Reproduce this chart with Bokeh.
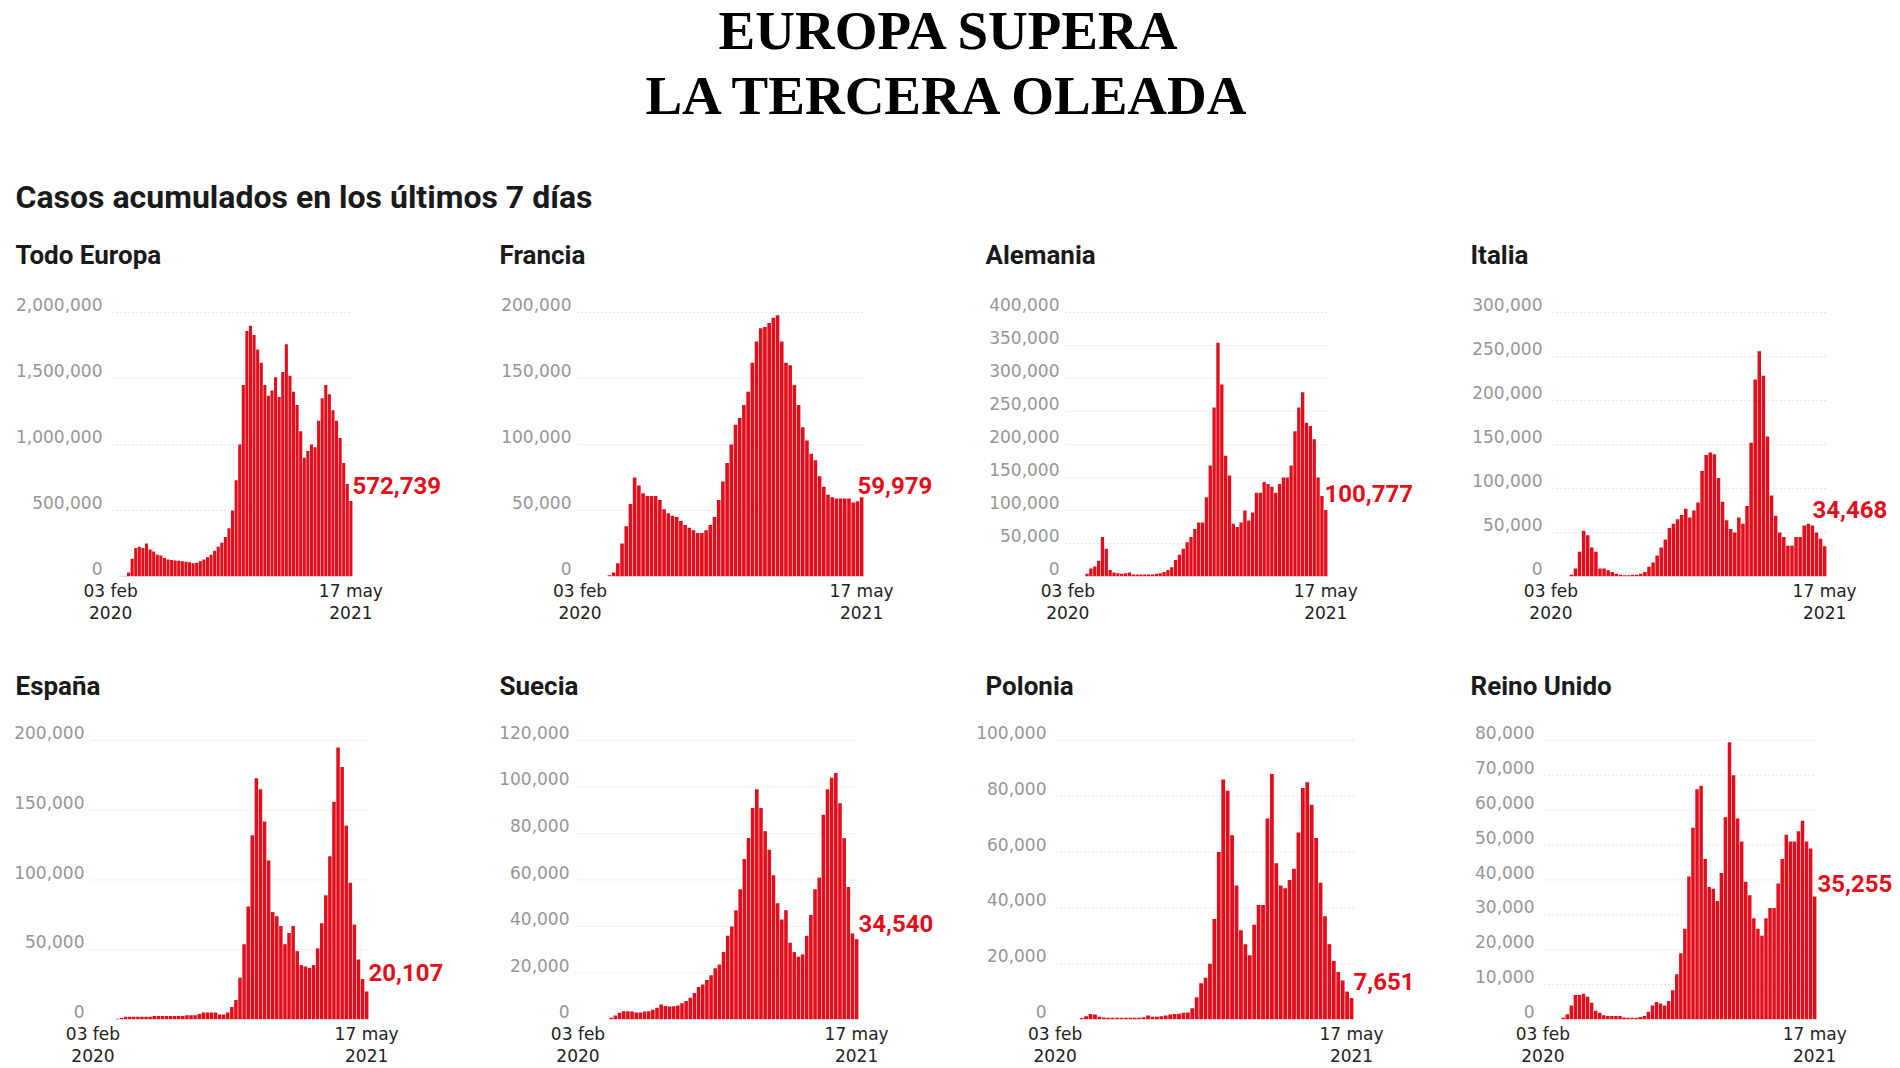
from bokeh.plotting import figure
from bokeh.layouts import column, row
from bokeh.models import Range1d, FixedTicker, NumeralTickFormatter, LinearAxis
from bokeh.core.properties import value
from bokeh.embed import file_html
from bokeh.resources import INLINE

# ---------------- DATA (weekly cases, 03 feb 2020 .. 17 may 2021) ----------------
main_title = ["EUROPA SUPERA", "LA TERCERA OLEADA"]
subtitle = "Casos acumulados en los últimos 7 días"
x_tick_labels = ["03 feb\n2020", "17 may\n2021"]

todo_europa = [0, 0, 0, 1000, 3000, 30000, 135000, 215000, 225000, 215000,
               250000, 205000, 190000, 165000, 160000, 140000, 128000, 125000, 122000, 120000,
               115000, 112000, 108000, 100000, 105000, 115000, 128000, 145000, 165000, 195000,
               225000, 255000, 300000, 365000, 500000, 730000, 1000000, 1450000, 1860000, 1900000,
               1830000, 1720000, 1620000, 1450000, 1370000, 1410000, 1510000, 1360000, 1550000, 1760000,
               1520000, 1400000, 1300000, 1100000, 900000, 950000, 1000000, 980000, 1180000, 1350000,
               1450000, 1380000, 1260000, 1180000, 1050000, 860000, 700000, 572739]
francia = [0, 0, 0, 0, 0, 0, 0, 1000, 3000, 10000,
           25000, 38000, 55000, 75000, 69000, 63000, 61000, 61000, 61000, 58000,
           51000, 48000, 46000, 45000, 42000, 39000, 37000, 35000, 33000, 33000,
           35000, 39000, 45000, 58000, 72000, 86000, 100000, 115000, 120000, 130000,
           140000, 162000, 178000, 188000, 189000, 192000, 196000, 198000, 178000, 162000,
           160000, 145000, 130000, 113000, 103000, 93000, 88000, 76000, 68000, 62000,
           60000, 59000, 59000, 59000, 59000, 56000, 57000, 59979]
alemania = [0, 0, 0, 0, 0, 4000, 12000, 15000, 24000, 60000,
            42000, 10000, 6000, 5000, 4000, 5000, 6000, 3000, 3000, 3000,
            3000, 3000, 3000, 4000, 5000, 7000, 10000, 14000, 25000, 33000,
            42000, 52000, 60000, 72000, 82000, 82000, 120000, 168000, 256000, 354000,
            291000, 183000, 153000, 80000, 75000, 82000, 100000, 85000, 97000, 127000,
            127000, 143000, 140000, 136000, 127000, 140000, 150000, 150000, 168000, 220000,
            256000, 279000, 233000, 228000, 208000, 150000, 122000, 100777]
italia = [0, 0, 0, 0, 0, 2000, 9000, 28000, 52000, 47000,
          33000, 28000, 9000, 9000, 7000, 5000, 3000, 2000, 1500, 1500,
          2000, 2000, 3000, 5000, 11000, 16000, 24000, 33000, 42000, 55000,
          60000, 65000, 70000, 77000, 67000, 75000, 84000, 120000, 138000, 141000,
          139000, 112000, 85000, 64000, 54000, 50000, 67000, 60000, 80000, 152000,
          224000, 256000, 228000, 159000, 92000, 69000, 50000, 45000, 35000, 35000,
          45000, 45000, 58000, 60000, 58000, 50000, 43000, 34468]
espana = [0, 0, 0, 0, 0, 0, 500, 1000, 2000, 2000,
          2000, 2000, 2000, 2000, 2000, 2500, 2500, 2500, 2500, 2500,
          2500, 2500, 2500, 3000, 3000, 3000, 4000, 5000, 5000, 5000,
          5000, 3500, 3500, 5000, 9000, 14000, 30000, 54000, 81000, 132000,
          173000, 165000, 142000, 114000, 77000, 74000, 67000, 54000, 62000, 67000,
          49000, 39000, 38000, 37000, 39000, 51000, 69000, 89000, 117000, 156000,
          195000, 181000, 139000, 98000, 68000, 43000, 29000, 20107]
suecia = [0, 0, 0, 0, 0, 0, 0, 0, 700, 1700,
          2900, 3600, 3600, 3400, 3000, 3000, 3400, 3600, 4200, 5000,
          6400, 5800, 5600, 5700, 6000, 7000, 8000, 9300, 11400, 14000,
          15000, 17000, 19000, 22000, 23600, 29000, 36000, 40000, 47000, 56000,
          69000, 78000, 91000, 99000, 91000, 81000, 73000, 62000, 50000, 43000,
          47000, 33000, 29000, 27000, 28000, 36000, 45000, 56000, 61000, 88000,
          99000, 104000, 106000, 93000, 78000, 57000, 37000, 34540]
polonia = [0, 0, 0, 0, 0, 0, 500, 1200, 2000, 1800,
           1000, 700, 600, 600, 600, 600, 600, 600, 600, 600,
           800, 1400, 1000, 1000, 1200, 1400, 1800, 2000, 2100, 2400,
           2500, 4000, 8000, 13000, 15000, 20000, 36000, 60000, 86000, 82000,
           66000, 48000, 32000, 27000, 23000, 34000, 41000, 41000, 72000, 88000,
           56000, 48000, 47000, 50000, 54000, 67000, 83000, 85000, 77000, 65000,
           49000, 37000, 27000, 21000, 17000, 14000, 10000, 7651]
reino_unido = [0, 0, 0, 0, 0, 500, 1500, 4000, 7000, 7000,
               7400, 6500, 4800, 2500, 1900, 1200, 1000, 1000, 1000, 1000,
               600, 500, 500, 500, 700, 1000, 2200, 4000, 5000, 4600,
               4000, 5300, 8400, 13000, 19000, 26000, 41000, 55000, 66000, 67000,
               46000, 38000, 37500, 34000, 42000, 58000, 79500, 70000, 57600, 51000,
               39500, 35600, 29000, 26000, 24000, 29000, 32000, 32000, 39000, 46000,
               53000, 51000, 51000, 54000, 57000, 51000, 49000, 35255]

countries = ["Todo Europa", "Francia", "Alemania", "Italia",
             "España", "Suecia", "Polonia", "Reino Unido"]
series = [todo_europa, francia, alemania, italia, espana, suecia, polonia, reino_unido]
y_ticks = [
    [0, 500000, 1000000, 1500000, 2000000],
    [0, 50000, 100000, 150000, 200000],
    [0, 50000, 100000, 150000, 200000, 250000, 300000, 350000, 400000],
    [0, 50000, 100000, 150000, 200000, 250000, 300000],
    [0, 50000, 100000, 150000, 200000],
    [0, 20000, 40000, 60000, 80000, 100000, 120000],
    [0, 20000, 40000, 60000, 80000, 100000],
    [0, 10000, 20000, 30000, 40000, 50000, 60000, 70000, 80000],
]

# ---------------- LAYOUT / STYLE ----------------
RED = "#e30e1b"
W = 1900
col_x = [0, 480, 960, 1440]
col_w = [480, 480, 480, 460]
# frame left / last-bar right (page px), value-label offsets (px)
frame_L = [108, 577, 1065, 1548, 90, 575, 1052, 1540]
frame_R = [352, 863, 1327, 1826, 368, 858, 1353, 1816]
lab_dx = [0, -6, -3, -14, 0, 0, 0, 1]
lab_dy = [-15, -12, -16, -37, -19, -16, -17, -13]
title_x = [15, 499, 985, 1470]
TICK_LIFT = 8    # y tick labels sit slightly above their gridline (px)
HEADROOM = 12    # empty px above the top gridline inside the frame

HEADER_H = 278
ROW1_H = 382
STRIP_H = 50
ROW2_H = 1068 - HEADER_H - ROW1_H - STRIP_H  # 358
# top gridline offset from row top, plot height (0 .. top tick), bottom border
row_cfg = [dict(h=ROW1_H, top=34, plot=264, bottom=84),
           dict(h=ROW2_H, top=30, plot=280, bottom=48)]

TICK_FONT = "DejaVu Sans"
LABEL_FONT = "Roboto"


def text_fig(h):
    f = figure(width=W, height=h, x_range=Range1d(0, W), y_range=Range1d(h, 0),
               x_axis_type=None, y_axis_type=None, output_backend="svg",
               toolbar_location=None, min_border=0, outline_line_color=None)
    f.xgrid.visible = False
    f.ygrid.visible = False
    return f


header = text_fig(HEADER_H)
header.text(x=[949, 949], y=[30, 95], text=main_title,
            text_font=value("Liberation Serif"), text_font_style="bold",
            text_font_size="55px", text_align="center", text_baseline="middle",
            text_color="#000000")
header.text(x=[15], y=[196], text=[subtitle], text_font=value(LABEL_FONT),
            text_font_style="bold", text_font_size="32px", text_align="left",
            text_baseline="middle", text_color="#1a1a1a")
header.text(x=title_x, y=[254] * 4, text=countries[:4], text_font=value(LABEL_FONT),
            text_font_style="bold", text_font_size="26px", text_align="left",
            text_baseline="middle", text_color="#1a1a1a")

strip = text_fig(STRIP_H)
strip.text(x=title_x, y=[25] * 4, text=countries[4:], text_font=value(LABEL_FONT),
           text_font_style="bold", text_font_size="26px", text_align="left",
           text_baseline="middle", text_color="#1a1a1a")


def panel(k):
    c = k % 4
    rc = row_cfg[k // 4]
    vals = series[k]
    n = len(vals)
    L, R = frame_L[k], frame_R[k]
    x0, x_last = -0.6, n - 1 + 0.45
    unit = (R - L) / (x_last - x0)
    x_end = x_last + (col_x[c] + col_w[c] - R) / unit
    ticks = y_ticks[k]
    ymax = ticks[-1]
    per_px = ymax / rc["plot"]
    y_top = ymax + HEADROOM * per_px
    p = figure(width=col_w[c], height=rc["h"], x_range=Range1d(x0, x_end),
               y_range=Range1d(0, y_top), output_backend="svg", toolbar_location=None,
               y_axis_location=None,
               min_border_left=L - col_x[c], min_border_right=0,
               min_border_top=rc["top"] - HEADROOM, min_border_bottom=rc["bottom"],
               outline_line_color=None)
    p.xgrid.visible = False
    p.ygrid.visible = False
    gt = [t for t in ticks if t > 0]
    p.segment(x0=[x0] * len(gt), x1=[x_last + 0.1] * len(gt), y0=gt, y1=gt,
              line_color="#cfcfcf", line_width=1, line_dash="1 3")
    p.vbar(x=list(range(n)), top=vals, width=0.86, fill_color=RED, line_color=None)
    p.text(x=[x_last], y=[vals[-1]], text=[f"{vals[-1]:,}"],
           x_offset=lab_dx[k], y_offset=lab_dy[k],
           text_font=value(LABEL_FONT), text_font_style="bold", text_font_size="24px",
           text_color=RED, text_align="left", text_baseline="middle")

    # y axis on a range shifted by a few pixels so labels sit above gridlines
    d = TICK_LIFT * per_px
    p.extra_y_ranges = {"lab": Range1d(-d, y_top - d)}
    ya = LinearAxis(y_range_name="lab", ticker=FixedTicker(ticks=ticks),
                    formatter=NumeralTickFormatter(format="0,0"))
    ya.axis_line_color = None
    ya.major_tick_line_color = None
    ya.minor_tick_line_color = None
    ya.major_tick_out = 0
    ya.major_tick_in = 0
    ya.major_label_standoff = 6
    ya.major_label_text_font = TICK_FONT
    ya.major_label_text_font_size = "17px"
    ya.major_label_text_color = "#969696"
    p.add_layout(ya, "left")

    xa = p.xaxis[0]
    xa.ticker = FixedTicker(ticks=[0, n - 1])
    xa.major_label_overrides = {0: x_tick_labels[0], n - 1: x_tick_labels[1]}
    xa.axis_line_color = None
    xa.major_tick_line_color = None
    xa.minor_tick_line_color = None
    xa.major_tick_out = 0
    xa.major_tick_in = 0
    xa.major_label_standoff = 4
    xa.major_label_text_font = TICK_FONT
    xa.major_label_text_font_size = "17px"
    xa.major_label_text_color = "#222222"
    xa.major_label_text_line_height = 1.12
    return p


panels = [panel(k) for k in range(8)]
layout = column(header, row(*panels[:4]), strip, row(*panels[4:]))

open("out.html", "w").write(file_html(layout, INLINE))
